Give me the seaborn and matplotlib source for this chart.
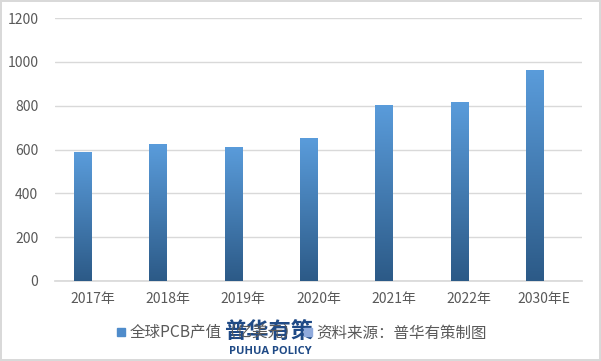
import numpy as np
import pandas as pd
import seaborn as sns
import matplotlib.pyplot as plt
from matplotlib.colors import LinearSegmentedColormap
from matplotlib.patches import Rectangle

years = ["2017年", "2018年", "2019年", "2020年", "2021年", "2022年", "2030年E"]
pcb_values = [588.4, 624.0, 613.1, 652.2, 804.5, 817.4, 964.0]
series_names = ["全球PCB产值（亿美元）", "资料来源：普华有策制图"]

sns.set_theme(style="white")
plt.rcParams["font.family"] = ["Noto Sans CJK SC", "DejaVu Sans"]

df = pd.DataFrame({
    "year": years * 2,
    "value": pcb_values + [0.0] * len(years),
    "series": [series_names[0]] * len(years) + [series_names[1]] * len(years),
})

fig = plt.figure(figsize=(6.01, 3.61), dpi=100)
fig.patch.set_edgecolor("#D9D9D9")
fig.patch.set_linewidth(1.5)
ax = fig.add_axes([55 / 601, 80 / 361, 527 / 601, 263 / 361])

sns.barplot(data=df, x="year", y="value", hue="series", ax=ax,
            width=0.533, gap=0.15, palette=["#4F8CCB", "#8FAADC"],
            legend=False, linewidth=0)

# gradient fill, dark at the bottom, light at the top
cmap = LinearSegmentedColormap.from_list("bar", ["#2C5A87", "#5A9CDB"])
grad = np.linspace(0, 1, 256).reshape(-1, 1)
for p in list(ax.patches):
    h = p.get_height()
    if h <= 0:
        continue
    x0 = p.get_x()
    w = p.get_width()
    im = ax.imshow(grad, cmap=cmap, origin="lower", aspect="auto",
                   extent=[x0, x0 + w, 0, h], zorder=3)
    im.set_clip_path(p)

ax.set_xlim(-0.5, len(years) - 0.5)
ax.set_ylim(0, 1200)
ax.set_yticks(range(0, 1201, 200))
ax.yaxis.grid(True, color="#D9D9D9", linewidth=1)
ax.set_axisbelow(True)
for s in ["top", "right", "left"]:
    ax.spines[s].set_visible(False)
ax.spines["bottom"].set_color("#D9D9D9")
ax.set_xlabel("")
ax.set_ylabel("")
ax.tick_params(axis="both", colors="#595959", labelsize=10, length=0)
ax.tick_params(axis="y", pad=12)
ax.tick_params(axis="x", pad=8)

handles = [Rectangle((0, 0), 1, 1, color="#4F8CCB"),
           Rectangle((0, 0), 1, 1, color="#8FAADC")]
fig.legend(handles, series_names, loc="center", ncol=2,
           bbox_to_anchor=(302 / 601, 1 - 333 / 361), frameon=False,
           handlelength=0.5, handleheight=0.5, handletextpad=0.3,
           columnspacing=0.3, fontsize=11.2, labelcolor="#595959")

# watermark
fig.text(269 / 601, 1 - 331 / 361, "普华有策", fontsize=16, fontweight="bold",
         color="#1F4A86", ha="center", va="center")
fig.text(270 / 601, 1 - 351 / 361, "PUHUA POLICY", fontsize=8,
         fontweight="bold", color="#1F4A86", ha="center", va="center",
         family=["Open Sans", "DejaVu Sans"])

fig.savefig("out.png", dpi=100)
